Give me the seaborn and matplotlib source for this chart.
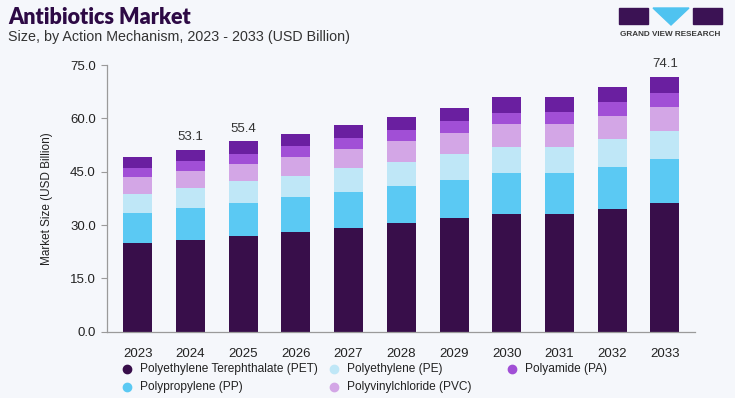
import numpy as np
import pandas as pd
import matplotlib
matplotlib.use("Agg")
import matplotlib.pyplot as plt
from matplotlib.patches import Rectangle, Polygon
from matplotlib.lines import Line2D
import seaborn as sns

# data (USD Billion)
years = ["2023", "2024", "2025", "2026", "2027", "2028", "2029", "2030", "2031", "2032", "2033"]
pet = [24.9, 25.8, 27.0, 28.0, 29.3, 30.7, 31.9, 33.2, 33.2, 34.6, 36.1]
pp = [8.5, 9.0, 9.3, 9.9, 10.1, 10.3, 10.8, 11.4, 11.4, 11.8, 12.4]
pe = [5.3, 5.7, 6.0, 6.0, 6.5, 6.8, 7.2, 7.4, 7.4, 7.9, 8.0]
pvc = [4.7, 4.8, 5.0, 5.3, 5.4, 5.8, 5.9, 6.3, 6.3, 6.4, 6.8]
pa = [2.7, 2.6, 2.7, 3.0, 3.2, 3.1, 3.4, 3.3, 3.5, 3.8, 3.9]
others = [3.0, 3.3, 3.6, 3.4, 3.6, 3.8, 3.8, 4.3, 4.1, 4.2, 4.5]

series_names = ["Polyethylene Terephthalate (PET)", "Polypropylene (PP)", "Polyethylene (PE)",
                "Polyvinylchloride (PVC)", "Polyamide (PA)", "Others"]
series_vals = [pet, pp, pe, pvc, pa, others]
colors = ["#380e4a", "#5bc9f3", "#bfe7f7", "#d3a6e6", "#a14fd6", "#6a1fa0"]

# labels shown above some bars
value_labels = {"2024": "53.1", "2025": "55.4", "2033": "74.1"}

BG = "#f5f7fb"
sns.set_theme(style="white")
plt.rcParams["font.family"] = ["Liberation Sans", "DejaVu Sans"]

W, H = 735, 398
fig = plt.figure(figsize=(W / 100, H / 100), dpi=100, facecolor=BG)
ax = fig.add_axes([0.1456, 0.1666, 0.80, 0.670], facecolor=BG)

# stacked bars: draw cumulative totals from the top series down
cum = np.cumsum(np.array(series_vals), axis=0)
for k in range(len(series_names) - 1, -1, -1):
    df = pd.DataFrame({"year": years, "value": cum[k]})
    sns.barplot(data=df, x="year", y="value", color=colors[k], width=0.55,
                saturation=1, ax=ax, linewidth=0)

totals = cum[-1]
for i, y in enumerate(years):
    if y in value_labels:
        ax.text(i, totals[i] + 1.8, value_labels[y], ha="center", va="bottom",
                fontsize=9.5, color="#333333")

ax.set_ylim(0, 75)
ax.set_xlim(-0.58, 10.57)
ax.set_yticks(np.arange(0, 76, 15))
ax.set_yticklabels([f"{v:.1f}" for v in np.arange(0, 76, 15)])
ax.set_xlabel("")
ax.set_ylabel("Market Size (USD Billion)", fontsize=8.5, color="#222222", labelpad=12)
ax.tick_params(axis="y", left=True, length=4, width=0.8, color="#9a9a9a",
               labelsize=9.5, labelcolor="#222222", pad=4)
ax.tick_params(axis="x", bottom=False, labelsize=9.5, labelcolor="#222222", pad=6)
for s in ["top", "right"]:
    ax.spines[s].set_visible(False)
for s in ["left", "bottom"]:
    ax.spines[s].set_color("#9a9a9a")
    ax.spines[s].set_linewidth(0.9)

# title block
fig.text(8 / W, 1 - 17 / H, "Antibiotics Market", fontsize=15.5, fontweight="heavy",
         color="#2d0a45", family=["Lato", "DejaVu Sans"], va="center")
fig.text(8 / W, 1 - 37 / H, "Size, by Action Mechanism, 2023 - 2033 (USD Billion)",
         fontsize=10.3, color="#333333", va="center")

# logo
fig.patches.append(Rectangle((619 / W, 1 - 24 / H), 29 / W, 16 / H,
                             transform=fig.transFigure, color="#3b1254"))
fig.patches.append(Polygon([(653 / W, 1 - 8 / H), (689 / W, 1 - 8 / H),
                            (671 / W, 1 - 25 / H)], closed=True,
                           transform=fig.transFigure, color="#4fc3f0"))
fig.patches.append(Rectangle((693 / W, 1 - 24 / H), 29 / W, 16 / H,
                             transform=fig.transFigure, color="#3b1254"))
fig.text(670 / W, 1 - 34 / H, "GRAND VIEW RESEARCH", fontsize=5.9, fontweight="bold",
         color="#3a3a3a", ha="center", va="center")

# legend laid out by hand (the top "Others" segment has no legend entry)
legend_slots = [(127, 369), (127, 387), (334, 369), (334, 387), (512, 369)]
for k, (lx, ly) in enumerate(legend_slots):
    fig.add_artist(Line2D([lx / W], [1 - ly / H], marker="o", linestyle="", markersize=6,
                          color=colors[k], transform=fig.transFigure))
    fig.text((lx + 13) / W, 1 - ly / H, series_names[k], fontsize=8.6, color="#222222",
             va="center", ha="left")

fig.savefig("out.png", dpi=100, facecolor=BG)
